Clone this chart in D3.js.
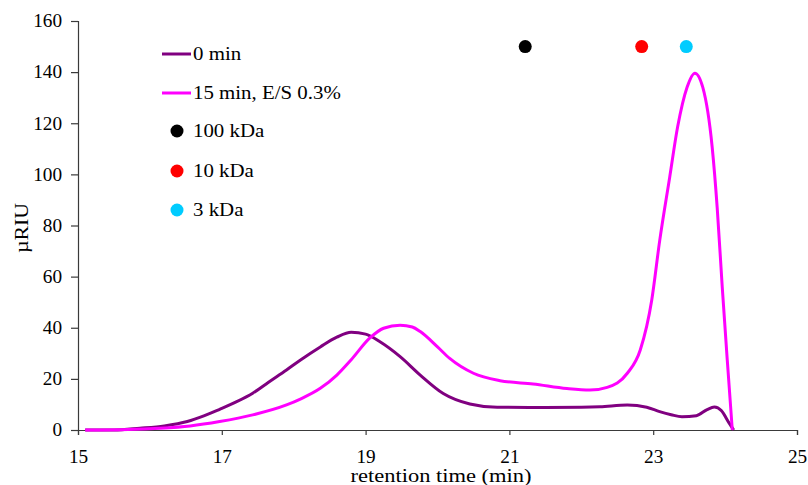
<!DOCTYPE html>
<html><head><meta charset="utf-8">
<script src="https://cdn.jsdelivr.net/npm/d3@7"></script>
<style>body{margin:0;background:#fff}svg{display:block}text{font-family:"Liberation Serif","Times New Roman",serif;fill:#000}</style>
</head><body>
<svg id="c" width="808" height="485"></svg>
<script>
const xTicks = [15,17,19,21,23,25];
const yTicks = [0,20,40,60,80,100,120,140,160];
const series0Name = "0 min";
const series1Name = "15 min, E/S 0.3%";
const t0 = [15.1,15.5,15.86,16.2,16.52,16.75,16.97,17.2,17.43,17.65,17.9,18.1,18.37,18.6,18.8,19.0,19.2,19.48,19.76,20.08,20.45,20.83,21.5,22.0,22.26,22.64,22.91,23.09,23.25,23.4,23.6,23.75,23.85,23.95,24.05,24.12];
const v0 = [0,0,0.7,1.6,3.3,5.5,8.1,11,14.4,18.7,23.5,27.5,32.5,36.3,38.2,37.5,34.5,28.7,21.5,14.3,10.2,8.9,8.8,8.9,9.1,9.8,8.9,7.2,6,5.2,5.6,8,9,7.5,3,0];
const t1 = [15.1,15.7,16.14,16.56,16.97,17.43,17.9,18.1,18.37,18.6,18.8,19.06,19.25,19.48,19.65,19.76,20.0,20.17,20.5,20.87,21.33,21.8,22.12,22.36,22.64,22.82,22.98,23.09,23.23,23.34,23.47,23.58,23.69,23.82,23.89,23.96,24.03,24.10];
const v1 = [0,0.2,0.7,1.6,3.3,5.9,9.8,12.2,16.3,21.5,27.5,36,39.8,41,40.3,38.5,32.5,28,22.2,19.3,18.0,16.2,15.6,16.7,22.2,31.3,50.9,74,99,118.6,134,139.6,134,110.7,87,56,27.4,0];
const markerNames = ["100 kDa","10 kDa","3 kDa"];
const markerT = [21.22,22.84,23.46];
const markerV = [150,150,150];
const markerColors = ["#000000","#ff0000","#00ccff"];
const lineColors = ["#800080","#ff00ff"];

const svg = d3.select("#c");
const x = d3.scaleLinear().domain([15,25]).range([78,797]);
const y = d3.scaleLinear().domain([0,160]).range([430,21]);
const axisColor = "#3a3a3a";

const gx = svg.append("g").attr("transform","translate(0,430)")
  .call(d3.axisBottom(x).tickValues(xTicks).tickSize(5).tickPadding(15).tickFormat(d3.format("d")));
const gy = svg.append("g").attr("transform","translate(78,0)")
  .call(d3.axisLeft(y).tickValues(yTicks).tickSize(7).tickPadding(9).tickFormat(d3.format("d")));
[gx,gy].forEach(g=>{
  g.select(".domain").attr("stroke",axisColor).attr("stroke-width",1.2);
  g.selectAll(".tick line").attr("stroke",axisColor).attr("stroke-width",1.2);
  g.selectAll("text").style("font-family","'Liberation Serif',serif").style("font-size","18px").attr("fill","#000");
});
gx.selectAll(".tick text").attr("transform","scale(1.07,1)");
gy.selectAll(".tick text").attr("x",-16/1.07).attr("transform","scale(1.07,1)");

const line = d3.line().x(d=>x(d[0])).y(d=>y(d[1])).curve(d3.curveMonotoneX);
svg.append("path").datum(t0.map((t,i)=>[t,v0[i]])).attr("d",line)
  .attr("fill","none").attr("stroke",lineColors[0]).attr("stroke-width",3);
svg.append("path").datum(t1.map((t,i)=>[t,v1[i]])).attr("d",line)
  .attr("fill","none").attr("stroke",lineColors[1]).attr("stroke-width",3);

svg.selectAll("circle.m").data(markerT).enter().append("circle")
  .attr("cx",d=>x(d)).attr("cy",(d,i)=>y(markerV[i])).attr("r",6.5).attr("fill",(d,i)=>markerColors[i]);

// legend
const lg = svg.append("g");
const rows = [
  {name:series0Name,type:"line",color:lineColors[0],y:54},
  {name:series1Name,type:"line",color:lineColors[1],y:93},
  {name:markerNames[0],type:"dot",color:markerColors[0],y:131},
  {name:markerNames[1],type:"dot",color:markerColors[1],y:171},
  {name:markerNames[2],type:"dot",color:markerColors[2],y:210}
];
rows.forEach(r=>{
  if(r.type==="line") lg.append("line").attr("x1",162).attr("x2",191).attr("y1",r.y).attr("y2",r.y).attr("stroke",r.color).attr("stroke-width",3);
  else lg.append("circle").attr("cx",177).attr("cy",r.y).attr("r",6.5).attr("fill",r.color);
  lg.append("text").attr("transform",`translate(193,${r.y+6}) scale(1.16,1)`).style("font-size","18px").text(r.name);
});

svg.append("text").attr("transform","translate(441,482) scale(1.25,1)").attr("text-anchor","middle").style("font-size","18px").text("retention time (min)");
svg.append("text").attr("transform","translate(28,228) rotate(-90) scale(1.15,1)").attr("text-anchor","middle").style("font-size","19px").text("µRIU");
</script></body></html>
